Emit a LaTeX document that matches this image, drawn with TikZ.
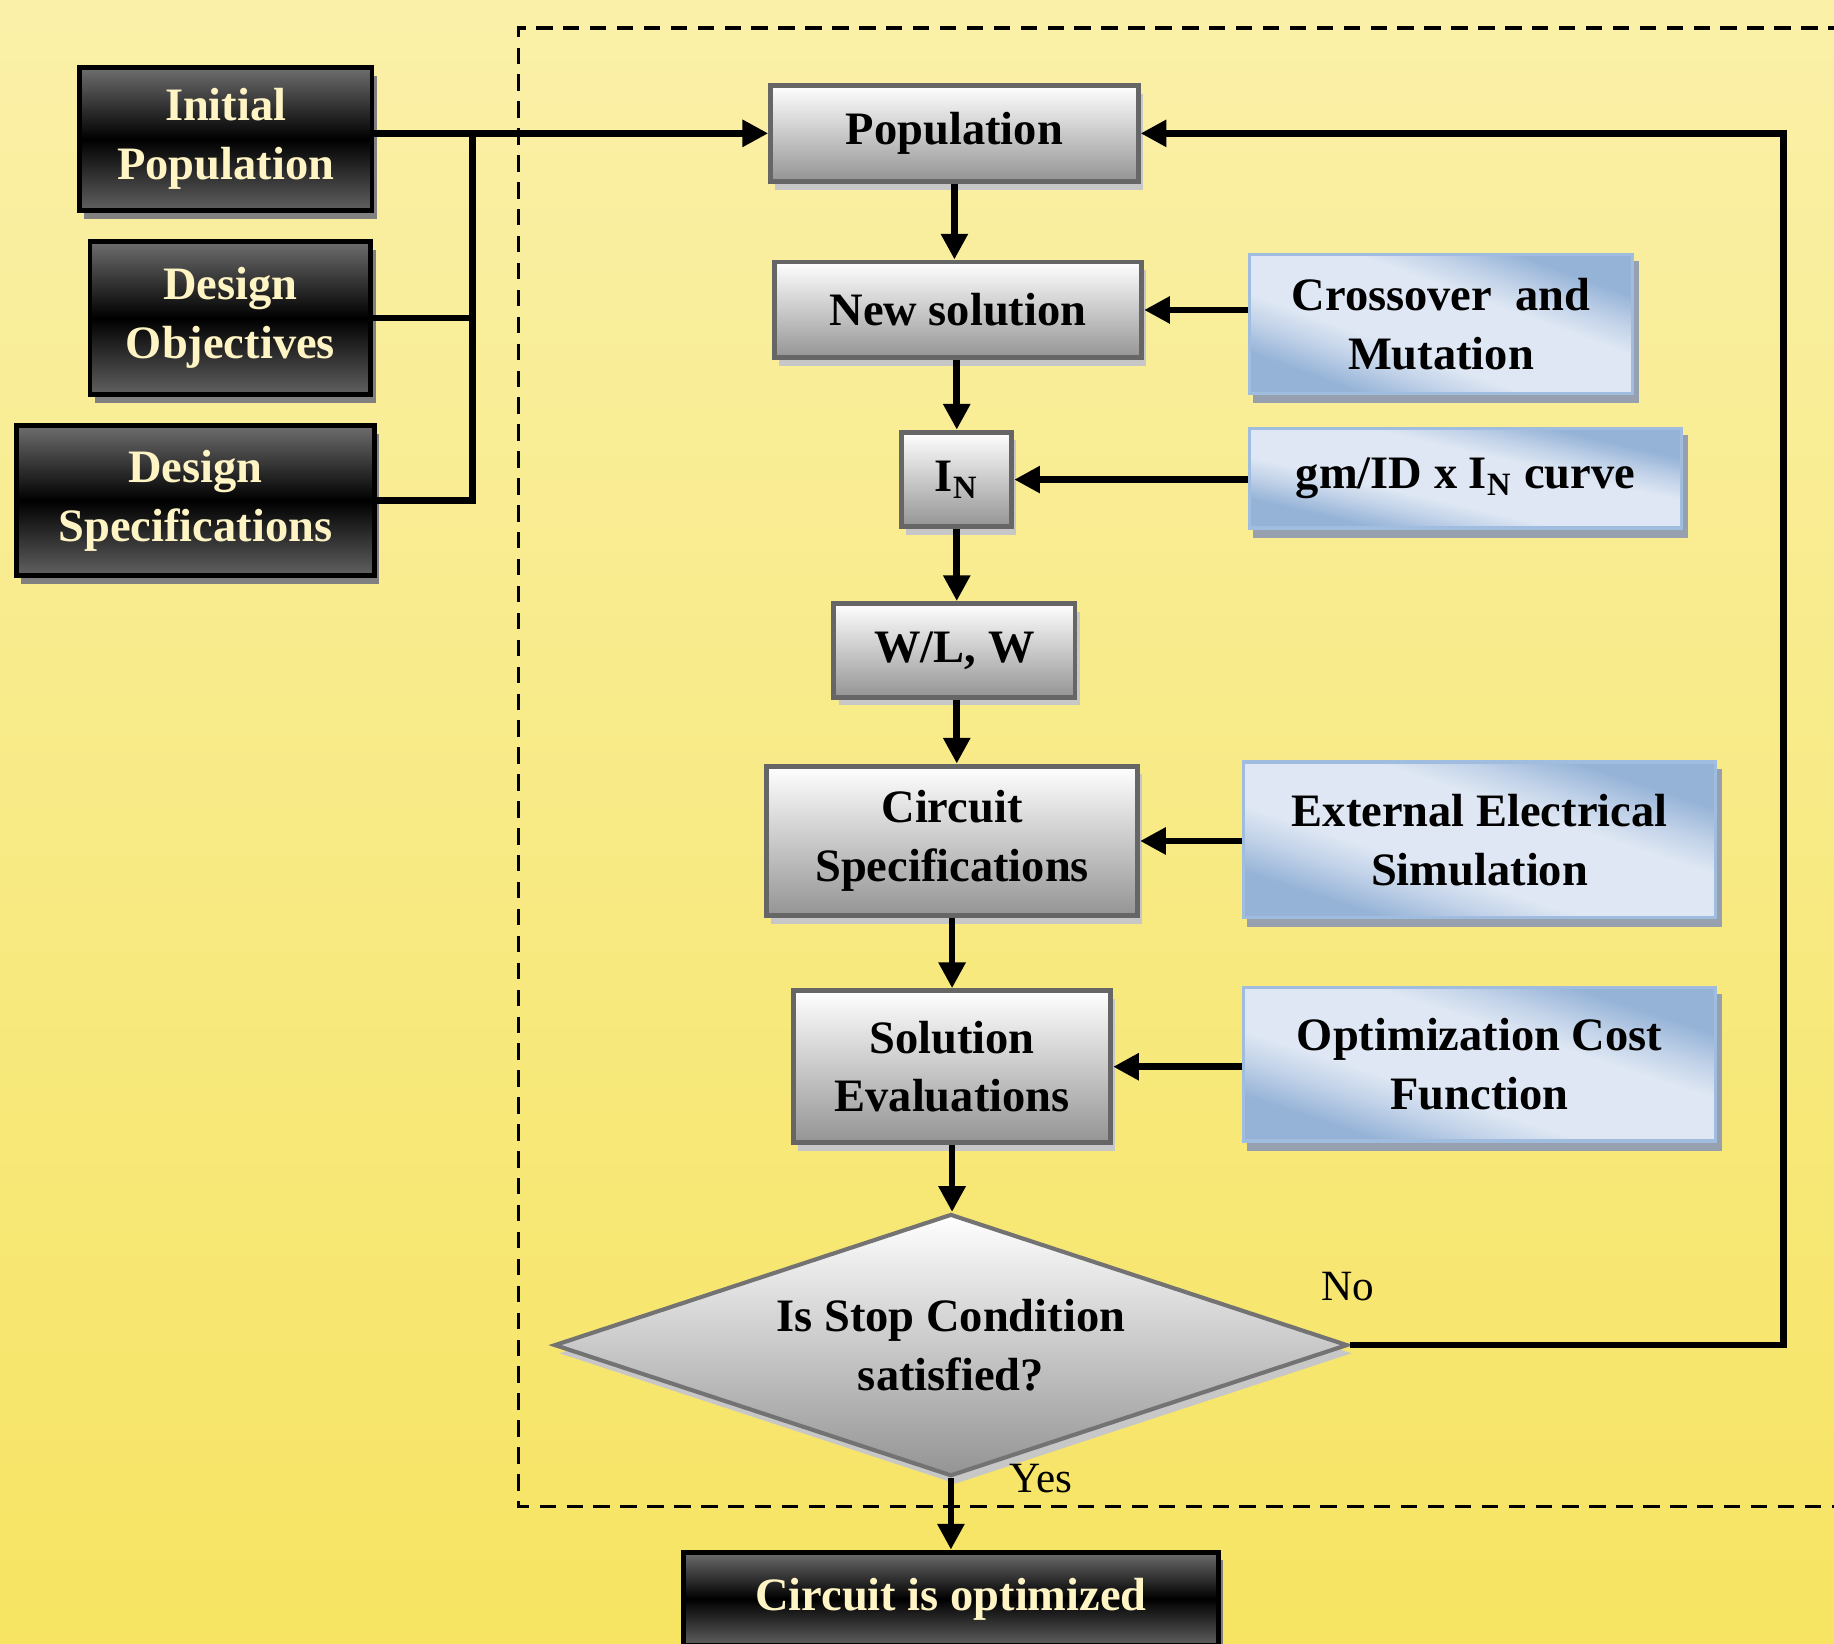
\documentclass[tikz,border=0pt]{standalone}
\usepackage{fontspec}
\setmainfont{Liberation Serif}
\usetikzlibrary{arrows.meta,shapes.geometric,shadows,backgrounds}
\definecolor{bgtop}{RGB}{250,240,168}
\definecolor{bgbot}{RGB}{246,228,98}
\definecolor{cream}{RGB}{255,244,196}
\definecolor{bluel}{RGB}{222,231,243}
\definecolor{bluem}{RGB}{192,209,232}
\definecolor{blued}{RGB}{149,179,215}
\definecolor{bluebd}{RGB}{160,188,222}
\definecolor{blueshd}{RGB}{150,160,175}
\pgfdeclareverticalshading{bluesh}{100bp}{color(0bp)=(blued); color(25bp)=(blued); color(33bp)=(bluem); color(40bp)=(bluel); color(60bp)=(bluel); color(67bp)=(bluem); color(75bp)=(blued); color(100bp)=(blued)}
\newcommand\bfnt{\fontsize{11.3}{14.3}\selectfont\bfseries}
\newcommand\blueback[3]{%
  \fill[blueshd] ([shift={(0.04cm,-0.07cm)}]#1.south west) rectangle ([shift={(0.04cm,-0.07cm)}]#1.north east);
  \begin{scope}[transform canvas={shift={(#1.center)}, xscale=#2, yscale=#3}]
    \shade[shading=bluesh, shading angle=-45] (-0.5cm,-0.5cm) rectangle (0.5cm,0.5cm);
  \end{scope}}
\tikzset{
  darkbox/.style={draw=black, line width=1.2pt, top color=black!57, bottom color=black!62, middle color=black,
    text=cream, font=\bfnt, align=center, inner sep=0pt,
    general shadow={fill=black!50, shadow xshift=0.04cm, shadow yshift=-0.07cm}},
  graybox/.style={draw=black!60, line width=1.2pt, top color=white, bottom color=black!42,
    text=black, font=\bfnt, align=center, inner sep=0pt,
    general shadow={fill=black!22, shadow xshift=0.04cm, shadow yshift=-0.07cm}},
  bluebox/.style 2 args={draw=bluebd, line width=0.8pt,
    minimum width=#1cm, minimum height=#2cm,
    text=black, font=\bfnt, align=center, inner sep=0pt},
  conn/.style={line width=1.6pt, -{Triangle[length=0.22cm,width=0.22cm]}},
  plain/.style={line width=1.6pt},
  lbl/.style={font=\fontsize{10.5}{12}\selectfont, text=black, inner sep=0pt},
}
\begin{document}
\begin{tikzpicture}[x=0.01cm,y=-0.01cm]
\useasboundingbox (0,0) rectangle (1568,1405);
\clip (0,0) rectangle (1568,1405);
\begin{scope}[on background layer]
\shade[top color=bgtop, bottom color=bgbot] (0,0) rectangle (1568,1405);
\end{scope}
\draw[dash pattern=on 0.14cm off 0.09cm, line width=0.8pt] (1600,24) -- (443,24) -- (443,1288) -- (1600,1288);

% left inputs
\node[darkbox, minimum width=2.5cm, minimum height=1.22cm] (ip) at (193,119) {Initial\\Population};
\node[darkbox, minimum width=2.4cm, minimum height=1.31cm] (do) at (197,272) {Design\\Objectives};
\node[darkbox, minimum width=3.06cm, minimum height=1.28cm] (ds) at (167,428) {Design\\Specifications};

% main chain
\node[graybox, minimum width=3.14cm, minimum height=0.82cm] (pop) at (816,114) {Population};
\node[graybox, minimum width=3.14cm, minimum height=0.82cm] (ns) at (819,265) {New solution};
\node[graybox, minimum width=0.94cm, minimum height=0.81cm] (in) at (818,410) {I\textsubscript{N}};
\node[graybox, minimum width=2.06cm, minimum height=0.80cm] (wl) at (816,556) {W/L, W};
\node[graybox, minimum width=3.17cm, minimum height=1.28cm] (cs) at (814,719) {Circuit\\Specifications};
\node[graybox, minimum width=2.71cm, minimum height=1.30cm] (se) at (814,912) {Solution\\Evaluations};
\node[graybox, diamond, aspect=3, minimum width=6.78cm, minimum height=2.24cm, draw=black!55, line width=1pt] (dec) at (813,1150) {Is Stop Condition\\satisfied?};
\node[darkbox, minimum width=4.57cm, minimum height=0.8cm] (opt) at (813,1367) {Circuit is optimized};

% side inputs
\node[bluebox={3.27}{1.19}] (cm) at (1232,277) {Crossover\ \ and\\Mutation};
\node[bluebox={3.69}{0.85}] (gm) at (1253,409) {gm/ID x I\textsubscript{N} curve};
\node[bluebox={4.03}{1.33}] (ext) at (1265,718) {External Electrical\\Simulation};
\node[bluebox={4.03}{1.31}] (ocf) at (1265,910) {Optimization Cost\\Function};
\begin{scope}[on background layer]
\blueback{cm}{3.27}{1.19}
\blueback{gm}{3.69}{0.85}
\blueback{ext}{4.03}{1.33}
\blueback{ocf}{4.03}{1.31}
\end{scope}

% bus from left inputs
\coordinate (bus) at (404,114);
\draw[conn] (ip.east |- pop.west) -- (pop.west);
\draw[plain] (bus) -- (bus |- ds.east) -- (ds.east);
\draw[plain] (do.east) -- (do.east -| bus);

% vertical chain
\draw[conn] (pop.south) -- (pop.south |- ns.north);
\draw[conn] (ns.south -| in.north) -- (in.north);
\draw[conn] (in.south) -- (in.south |- wl.north);
\draw[conn] (in.south |- wl.south) -- (in.south |- cs.north);
\draw[conn] (cs.south) -- (cs.south |- se.north);
\draw[conn] (se.south) -- (se.south |- dec.north);
\draw[conn] (dec.south) -- (dec.south |- opt.north);

% side arrows
\draw[conn] (cm.west |- ns.east) -- (ns.east);
\draw[conn] (gm.west |- in.east) -- (in.east);
\draw[conn] (ext.west |- cs.east) -- (cs.east);
\draw[conn] (ocf.west |- se.east) -- (se.east);

% feedback loop
\coordinate (rt) at (1525,0);
\draw[conn] (dec.east) -- (dec.east -| rt) -- (rt |- pop.east) -- (pop.east);

\node[lbl] (no) at (1152,1100) {No};
\node[lbl] (yes) at (890,1264) {Yes};
\end{tikzpicture}
\end{document}
